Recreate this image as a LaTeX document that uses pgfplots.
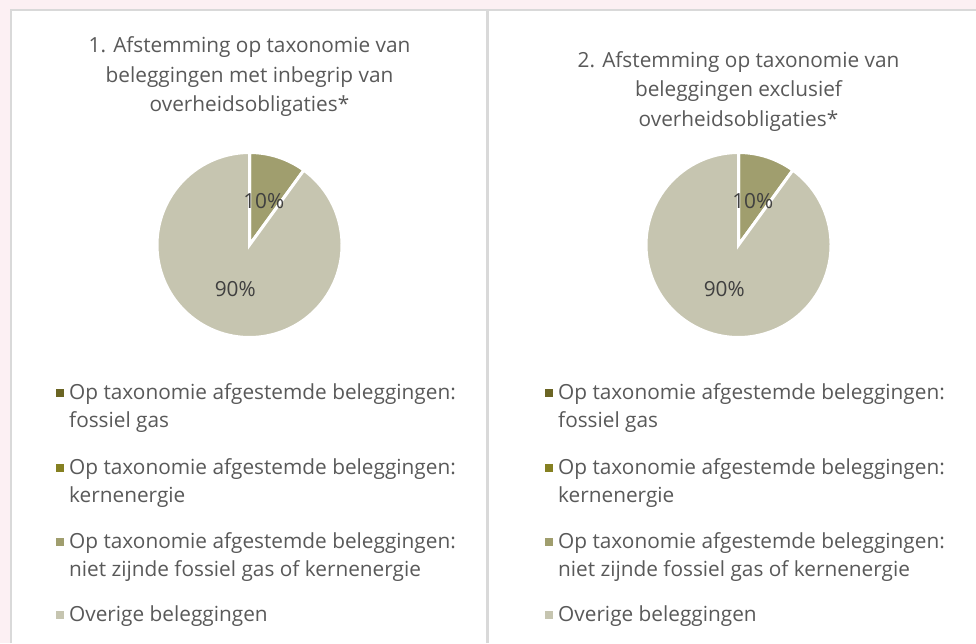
\documentclass[border=0pt]{standalone}
\usepackage{pgfplots}
\pgfplotsset{compat=1.18}
\usepackage{pgfplotstable}
\usepackage{fontspec}
\setmainfont{Open Sans}
\usetikzlibrary{calc}

\definecolor{bgpink}{HTML}{FCF0F3}
\definecolor{framegray}{HTML}{D9D9D9}
\definecolor{txt}{HTML}{595959}
\definecolor{lbl}{HTML}{404040}
\definecolor{cgas}{HTML}{6B6524}
\definecolor{ckern}{HTML}{858021}
\definecolor{cniet}{HTML}{A09E6E}
\definecolor{cover}{HTML}{C6C5B0}

\newcommand\fsz{\fontsize{20.8}{25}\selectfont}

% values (percent) of the two pies
\pgfplotstableread{
cat value
1 0
2 0
3 10
4 90
}\dataA
\pgfplotstableread{
cat value
1 0
2 0
3 10
4 90
}\dataB

% cumulative angles, starting at 12 o'clock, clockwise
\newcommand\angles[2]{% table, prefix
  \pgfplotstablegetelem{0}{value}\of#1\pgfmathsetmacro\va{\pgfplotsretval}%
  \pgfplotstablegetelem{1}{value}\of#1\pgfmathsetmacro\vb{\pgfplotsretval}%
  \pgfplotstablegetelem{2}{value}\of#1\pgfmathsetmacro\vc{\pgfplotsretval}%
  \pgfplotstablegetelem{3}{value}\of#1\pgfmathsetmacro\vd{\pgfplotsretval}%
  \expandafter\xdef\csname#2aa\endcsname{90}%
  \pgfmathsetmacro\t{90-3.6*\va}\expandafter\xdef\csname#2ab\endcsname{\t}%
  \pgfmathsetmacro\t{\t-3.6*\vb}\expandafter\xdef\csname#2ac\endcsname{\t}%
  \pgfmathsetmacro\t{\t-3.6*\vc}\expandafter\xdef\csname#2ad\endcsname{\t}%
  \pgfmathsetmacro\t{\t-3.6*\vd}\expandafter\xdef\csname#2ae\endcsname{\t}%
  \pgfmathtruncatemacro\t{\vc}\expandafter\xdef\csname#2pc\endcsname{\t}%
  \pgfmathtruncatemacro\t{\vd}\expandafter\xdef\csname#2pd\endcsname{\t}%
}
\angles\dataA{A}
\angles\dataB{B}

\newcommand\slice[5]{% cx, cy, start, end, color
  \fill[#5, draw=white, line width=3pt] (axis cs:#1,#2) -- ++(#3:92.5pt)
     arc[start angle=#3, end angle=#4, radius=92.5pt] -- cycle;}
\newcommand\plabel[5]{% cx, cy, start, end, text
  \pgfmathsetmacro\m{(#3+#4)/2}%
  \edef\tmp{\noexpand\node[text=lbl, font=\noexpand\fsz] at ($(axis cs:#1,#2)+(\m:46pt)$) {#5\noexpand\%};}\tmp}

\newcommand\legendblock[1]{% x offset of panel
  \foreach \c/\y in {cgas/250, ckern/175, cniet/101, cover/28}{
    \fill[\c] (#1+56,\y-4) rectangle (#1+64,\y+4);}
  \begin{scope}[every node/.style={anchor=base west, inner sep=0pt, text=txt, font=\fsz}]
    \node at (#1+69,244) {Op taxonomie afgestemde beleggingen:};
    \node at (#1+69,216) {fossiel gas};
    \node at (#1+69,169) {Op taxonomie afgestemde beleggingen:};
    \node at (#1+69,141) {kernenergie};
    \node at (#1+69,95) {Op taxonomie afgestemde beleggingen:};
    \node at (#1+69,67) {niet zijnde fossiel gas of kernenergie};
    \node at (#1+69,22) {Overige beleggingen};
  \end{scope}}

\begin{document}
\begin{tikzpicture}[x=1pt,y=1pt]
\useasboundingbox (0,0) rectangle (976,643);
\fill[bgpink] (0,0) rectangle (976,643);
\fill[white] (11,0) rectangle (976,633);
\draw[framegray, line width=2.5pt] (11,0) -- (11,633) -- (976,633);
\draw[framegray, line width=2.5pt] (487.5,0) -- (487.5,633);

\begin{axis}[x=1pt, y=1pt, xmin=0, xmax=976, ymin=0, ymax=643,
  hide axis, clip=false, anchor=origin, at={(0,0)}]
  % left pie
  \slice{249.5}{398}{\Aaa}{\Aab}{cgas}
  \slice{249.5}{398}{\Aab}{\Aac}{ckern}
  \slice{249.5}{398}{\Aac}{\Aad}{cniet}
  \slice{249.5}{398}{\Aad}{\Aae}{cover}
  \plabel{249.5}{398}{\Aac}{\Aad}{\Apc}
  \plabel{249.5}{398}{\Aad}{\Aae}{\Apd}
  % right pie
  \slice{738.5}{398}{\Baa}{\Bab}{cgas}
  \slice{738.5}{398}{\Bab}{\Bac}{ckern}
  \slice{738.5}{398}{\Bac}{\Bad}{cniet}
  \slice{738.5}{398}{\Bad}{\Bae}{cover}
  \plabel{738.5}{398}{\Bac}{\Bad}{\Bpc}
  \plabel{738.5}{398}{\Bad}{\Bae}{\Bpd}
\end{axis}

\begin{scope}[every node/.style={anchor=base, inner sep=0pt, text=txt, font=\fsz}]
  \node at (249.5,590) {1. Afstemming op taxonomie van};
  \node at (249.5,560) {beleggingen met inbegrip van};
  \node at (249.5,531) {overheidsobligaties*};
  \node at (738.5,575) {2. Afstemming op taxonomie van};
  \node at (738.5,546) {beleggingen exclusief};
  \node at (738.5,516) {overheidsobligaties*};
\end{scope}
\legendblock{0}
\legendblock{489}
\end{tikzpicture}
\end{document}
